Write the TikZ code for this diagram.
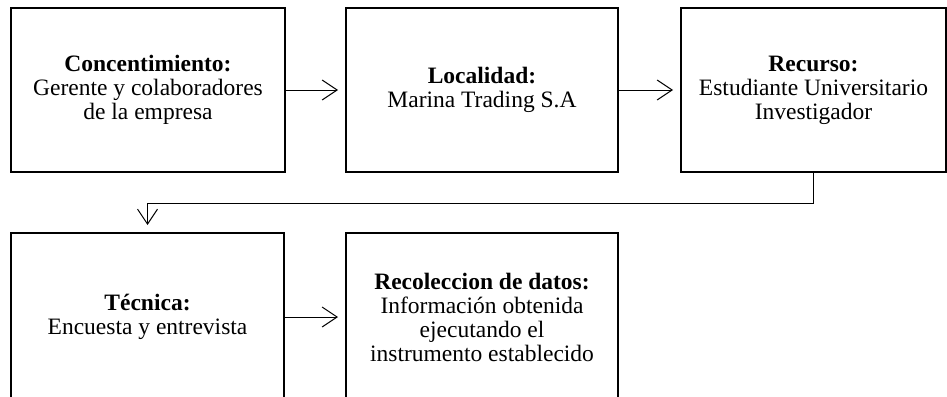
\documentclass[tikz,border=0pt]{standalone}
\usepackage{fontspec}
\setmainfont{Liberation Serif}
\usetikzlibrary{arrows.meta}
\begin{document}
\begin{tikzpicture}[x=1pt,y=1pt,
  box/.style={draw=black, line width=2pt, minimum height=164pt, align=center,
    inner sep=2pt, font=\fontsize{23.5}{24}\selectfont},
  arr/.style={line width=1pt, -{Straight Barb[length=15pt,width=20pt,line width=1pt]}, shorten >=7pt}]
\clip (0,0) rectangle (947,-396);
\node[box, minimum width=274pt] (b1) at (148,-90) {\textbf{Concentimiento:}\\Gerente y colaboradores\\de la empresa};
\node[box, minimum width=272pt] (b2) at (482,-90) {\textbf{Localidad:}\\Marina Trading S.A};
\node[box, minimum width=265pt] (b3) at (813.5,-90) {\textbf{Recurso:}\\Estudiante Universitario\\Investigador};
\node[box, minimum width=273pt, minimum height=168pt] (b4) at (147.5,-317) {\textbf{Técnica:}\\Encuesta y entrevista};
\node[box, minimum width=272pt, minimum height=168pt] (b5) at (482,-317) {\textbf{Recoleccion de datos:}\\Información obtenida\\ejecutando el\\instrumento establecido};
\draw[arr] (b1.east) -- (b2.west);
\draw[arr] (b2.east) -- (b3.west);
\draw[arr] (b4.east) -- (b5.west);
\coordinate (bend) at ([yshift=-30pt]b3.south);
\draw[arr] (b3.south) -- (bend) -| (b4.north);
\end{tikzpicture}
\end{document}
